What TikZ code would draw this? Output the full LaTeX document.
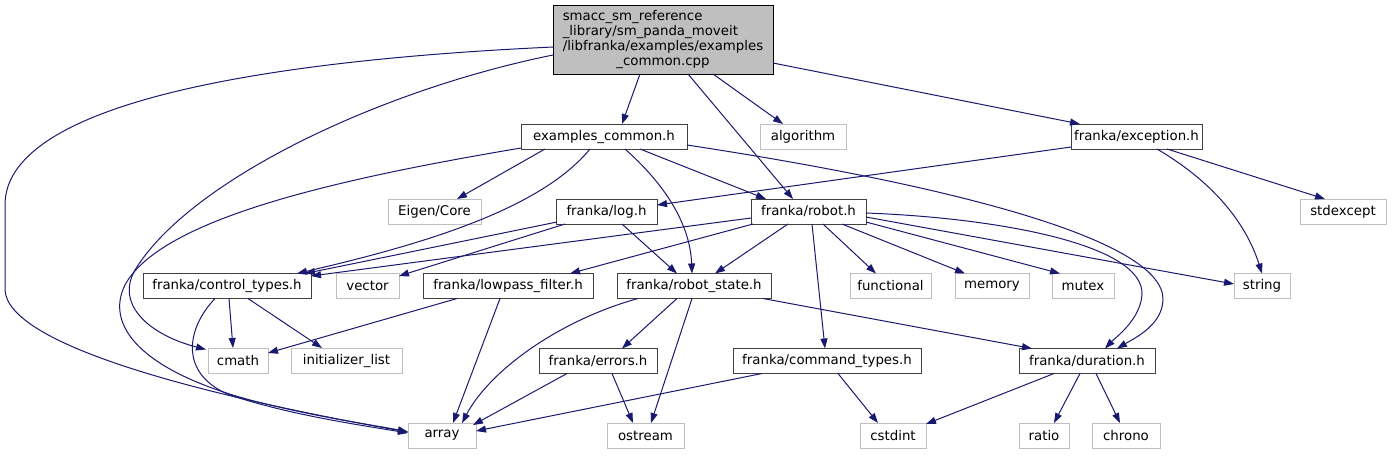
\documentclass[tikz,border=0pt]{standalone}
\usepackage{fontspec}
\setmainfont{DejaVu Sans}
\usetikzlibrary{calc,arrows.meta}
\definecolor{edgec}{HTML}{191970}
\definecolor{dk}{HTML}{404040}
\definecolor{lt}{HTML}{BFBFBF}
\begin{document}
\begin{tikzpicture}[x=0.75pt,y=-0.75pt,
  nd/.style={draw=dk, line width=0.75pt, fill=white, minimum height=25*0.75pt, inner sep=0pt, font=\fontsize{10}{12}\selectfont},
  ext/.style={nd, draw=lt},
  w/.style={minimum width=#1*0.75pt},
  e/.style={draw=edgec, line width=0.75pt, -{Triangle[length=7.5pt,width=5.25pt]}},
]
\useasboundingbox (0,0) rectangle (1393,455);
% nodes
\node[nd, fill=lt, draw=black, w=220, minimum height=69*0.75pt, font=\fontsize{10}{11.25}\selectfont] (m) at (663,39.5)
  {\begin{tabular}{@{}l@{}}smacc\_sm\_reference\\ \_library/sm\_panda\_moveit\\ /libfranka/examples/examples\\ \multicolumn{1}{@{}c@{}}{\_common.cpp}\end{tabular}};
\node[nd, w=166] (ec) at (604,136.5) {examples\_common.h};
\node[ext, w=86] (alg) at (803,136.5) {algorithm};
\node[nd, w=131] (ex) at (1136.5,136.5) {franka/exception.h};
\node[ext, w=93] (eig) at (434.5,211.5) {Eigen/Core};
\node[nd, w=101] (log) at (606.5,211.5) {franka/log.h};
\node[nd, w=115] (r) at (808.5,211.5) {franka/robot.h};
\node[ext, w=86] (se) at (1343,211.5) {stdexcept};
\node[nd, w=168] (ct) at (227,286) {franka/control\_types.h};
\node[ext, w=63] (vec) at (367.5,286) {vector};
\node[nd, w=170] (lp) at (508,286) {franka/lowpass\_filter.h};
\node[nd, w=154] (rs) at (694,286) {franka/robot\_state.h};
\node[ext, w=81] (fun) at (890.5,286) {functional};
\node[ext, w=74] (mem) at (992,286) {memory};
\node[ext, w=62] (mut) at (1083,286) {mutex};
\node[ext, w=56] (str) at (1262,286) {string};
\node[ext, w=60] (cm) at (238,360.5) {cmath};
\node[ext, w=111] (il) at (346.5,360.5) {initializer\_list};
\node[nd, w=118] (er) at (598,361) {franka/errors.h};
\node[nd, w=188] (cmd) at (827,361) {franka/command\_types.h};
\node[nd, w=136] (d) at (1087,361) {franka/duration.h};
\node[ext, w=68] (arr) at (442,435.5) {array};
\node[ext, w=77] (os) at (645.5,435.5) {ostream};
\node[ext, w=66] (ci) at (893,435.5) {cstdint};
\node[ext, w=50] (ra) at (1044,435.5) {ratio};
\node[ext, w=68] (ch) at (1126,435.5) {chrono};
% edges from main
\draw[e] ($(m)+(-23,34.5)$) -- ($(ec)+(18,-12.5)$);
\draw[e] ($(m)+(25,34.5)$) -- ($(r)+(-15.5,-12.5)$);
\draw[e] ($(m)+(50,34.5)$) -- ($(alg)+(-20,-12.5)$);
\draw[e] ($(m)+(110,23.5)$) -- ($(ex)+(-56.5,-12.5)$);
\draw[e] ($(m)+(-110,7.5)$) .. controls (230,62) and (5,110) .. (5,205) -- (5,290) .. controls (8,345) and (200,395) .. ($(arr)+(-34,-3.5)$);
\draw[e] ($(m)+(-110,15.5)$) .. controls (380,90) and (190,180) .. (135,270) .. controls (115,305) and (150,335) .. ($(cm)+(-32,-11)$);
% examples_common.h
\draw[e] ($(ec)+(-59,12.5)$) -- ($(eig)+(22.5,-12.5)$);
\draw[e] ($(ec)+(36,12.5)$) -- ($(r)+(-42.5,-12.5)$);
\draw[e] ($(ec)+(83,8.5)$) .. controls (950,185) and (1165,240) .. (1163,300) .. controls (1162,325) and (1135,338) .. ($(d)+(30,-12.5)$);
\draw[e] ($(ec)+(-14,12.5)$) .. controls (540,210) and (420,245) .. ($(ct)+(70,-12.5)$);
\draw[e] ($(ec)+(21,12.5)$) .. controls (660,180) and (690,220) .. ($(rs)+(-2,-12.5)$);
\draw[e] ($(ec)+(-83,11.5)$) .. controls (330,180) and (160,220) .. (125,285) .. controls (105,325) and (140,370) .. (250,400) .. controls (320,418) and (380,426) .. ($(arr)+(-34,-3.5)$);
% control_types
\draw[e] ($(ct)+(2,12.5)$) -- ($(cm)+(-5,-12.5)$);
\draw[e] ($(ct)+(21,12.5)$) -- ($(il)+(-24.5,-12.5)$);
\draw[e] ($(ct)+(-12,12.5)$) .. controls (185,330) and (180,375) .. (230,395) .. controls (290,415) and (360,425) .. ($(arr)+(-34,-2.5)$);
% log.h
\draw[e] ($(log)+(-49.5,10.5)$) -- ($(ct)+(78,-12.5)$);
\draw[e] ($(log)+(-41.5,12.5)$) -- ($(vec)+(31.5,-10)$);
\draw[e] ($(log)+(15.5,12.5)$) -- ($(rs)+(-17,-12.5)$);
% robot.h
\draw[e] ($(r)+(-57.5,6.5)$) -- ($(ct)+(84,-10)$);
\draw[e] ($(r)+(-55.5,12.5)$) -- ($(lp)+(62,-12.5)$);
\draw[e] ($(r)+(-20.5,12.5)$) -- ($(rs)+(21,-12.5)$);
\draw[e] ($(r)+(3.5,12.5)$) -- ($(cmd)+(-2,-12.5)$);
\draw[e] ($(r)+(14.5,12.5)$) -- ($(fun)+(-14.5,-12.5)$);
\draw[e] ($(r)+(33.5,12.5)$) -- ($(mem)+(-27,-12.5)$);
\draw[e] ($(r)+(57.5,10.5)$) -- ($(mut)+(-23,-12.5)$);
\draw[e] ($(r)+(57.5,5.5)$) -- ($(str)+(-28,-2)$);
\draw[e] ($(r)+(57.5,1.5)$) .. controls (1000,218) and (1145,245) .. (1142,295) .. controls (1140,320) and (1115,338) .. ($(d)+(18,-12.5)$);
% exception.h
\draw[e] ($(ex)+(-65.5,10.5)$) -- ($(log)+(50.5,-6.5)$);
\draw[e] ($(ex)+(20.5,12.5)$) .. controls (1210,180) and (1245,220) .. ($(str)+(0,-12.5)$);
\draw[e] ($(ex)+(30.5,12.5)$) -- ($(se)+(-18,-12.5)$);
% lowpass_filter
\draw[e] ($(lp)+(-51,12.5)$) -- ($(cm)+(30,-7.5)$);
\draw[e] ($(lp)+(-8,12.5)$) -- ($(arr)+(11,-12.5)$);
% robot_state
\draw[e] ($(rs)+(-56,12.5)$) .. controls (560,320) and (490,370) .. ($(arr)+(20,-12.5)$);
\draw[e] ($(rs)+(-17,12.5)$) -- ($(er)+(24,-12.5)$);
\draw[e] ($(rs)+(-2,12.5)$) -- ($(os)+(5.5,-12.5)$);
\draw[e] ($(rs)+(69,12.5)$) -- ($(d)+(-55,-12.5)$);
% errors
\draw[e] ($(er)+(-31,12.5)$) -- ($(arr)+(31,-10.5)$);
\draw[e] ($(er)+(14,12.5)$) -- ($(os)+(-12.5,-12.5)$);
% command_types
\draw[e] ($(cmd)+(-65,12.5)$) -- ($(arr)+(34,-4.5)$);
\draw[e] ($(cmd)+(11,12.5)$) -- ($(ci)+(-15,-12.5)$);
% duration
\draw[e] ($(d)+(-33,12.5)$) -- ($(ci)+(33,-11.5)$);
\draw[e] ($(d)+(-7,12.5)$) -- ($(ra)+(10,-12.5)$);
\draw[e] ($(d)+(9,12.5)$) -- ($(ch)+(-6,-12.5)$);
\end{tikzpicture}
\end{document}
